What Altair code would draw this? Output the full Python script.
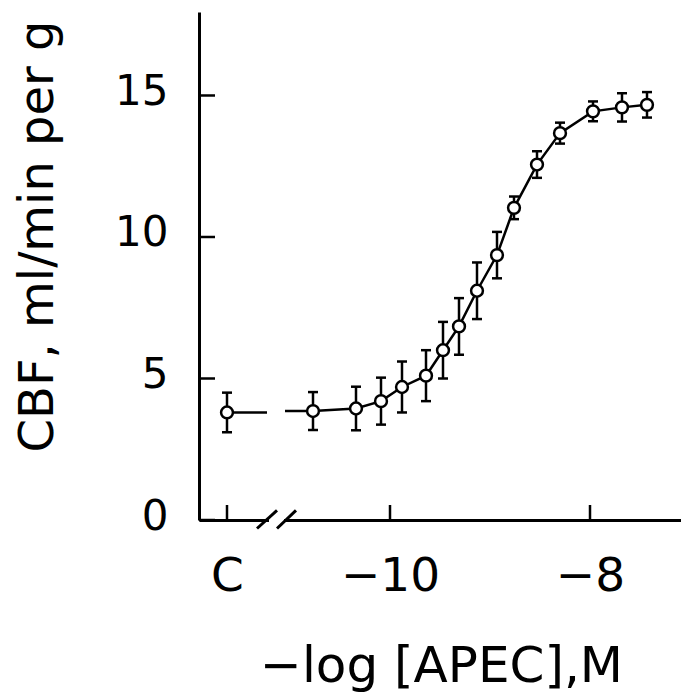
import altair as alt
import pandas as pd

# ---- data ----
x_labels = ["C", "-10", "-8"]
x_pos = [-11.63, -10.77, -10.34, -10.09, -9.88, -9.64, -9.47, -9.31, -9.13,
         -8.93, -8.76, -8.53, -8.30, -7.97, -7.68, -7.43]
cbf_mean = [3.80, 3.85, 3.94, 4.20, 4.70, 5.10, 6.00, 6.84, 8.10,
            9.36, 11.03, 12.56, 13.67, 14.44, 14.58, 14.67]
cbf_sem = [0.70, 0.67, 0.77, 0.83, 0.90, 0.90, 1.00, 1.00, 1.00,
           0.82, 0.40, 0.47, 0.37, 0.35, 0.50, 0.45]
x_tick_values = [-11.63, -10, -8]
y_tick_values = [0, 5, 10, 15]
# axis-break decoration (in data units)
line_gap = [-11.23, -11.05]
slash_x = [[-11.33, -11.13], [-11.13, -10.94]]
slash_y = [-0.30, 0.34]
axis_gap = [-11.21, -11.06]

X_DOMAIN = [-11.91, -7.09]
Y_DOMAIN = [0, 17.95]
W, H = 482, 508
FONT = "DejaVu Sans"

pts = pd.DataFrame({"x": x_pos, "y": cbf_mean,
                    "lo": [m - s for m, s in zip(cbf_mean, cbf_sem)],
                    "hi": [m + s for m, s in zip(cbf_mean, cbf_sem)]})

seg_rows = [
    {"x": x_pos[0], "y": cbf_mean[0], "seg": "a"},
    {"x": line_gap[0], "y": cbf_mean[0], "seg": "a"},
    {"x": line_gap[1], "y": cbf_mean[1], "seg": "b"},
]
for xv, yv in zip(x_pos[1:], cbf_mean[1:]):
    seg_rows.append({"x": xv, "y": yv, "seg": "b"})
segs = pd.DataFrame(seg_rows)

xs = alt.Scale(domain=X_DOMAIN, nice=False, zero=False)
ys = alt.Scale(domain=Y_DOMAIN, nice=False, zero=False)

label_expr = ("datum.value < -11 ? '" + x_labels[0] + "' : "
              "(datum.value < -9 ? '" + x_labels[1].replace('-', '\u2212') + "' : '"
              + x_labels[2].replace('-', '\u2212') + "')")

x_axis = alt.Axis(values=x_tick_values, labelExpr=label_expr, ticks=False, tickSize=0,
                  grid=False, domainColor="black", domainWidth=3,
                  labelFont=FONT, labelFontSize=47, labelColor="black",
                  labelBaseline="alphabetic", labelPadding=70,
                  title="\u2212log [APEC],M", titleFont=FONT, titleFontSize=50,
                  titleFontWeight="normal", titleColor="black",
                  titleX=242, titleY=161, titleAlign="center", titleBaseline="alphabetic")
y_axis = alt.Axis(values=y_tick_values, ticks=False, tickSize=0, grid=False,
                  domainColor="black", domainWidth=3,
                  labelFont=FONT, labelFontSize=42, labelColor="black",
                  labelPadding=31, labelOffset=-4,
                  title="CBF, ml/min per g", titleFont=FONT, titleFontSize=48,
                  titleFontWeight="normal", titleColor="black",
                  titleX=-147, titleY=224, titleAngle=-90, titleAlign="center",
                  titleBaseline="alphabetic")


def X(f):
    return alt.X(f, scale=xs, axis=x_axis)


def Y(f):
    return alt.Y(f, scale=ys, axis=y_axis)


lines = alt.Chart(segs).mark_line(color="black", strokeWidth=2.5).encode(
    x=X("x:Q"), y=Y("y:Q"), detail="seg:N", order="x:Q",
)
ebar = alt.Chart(pts).mark_rule(color="black", strokeWidth=2.5).encode(
    x=X("x:Q"), y=Y("lo:Q"), y2="hi:Q",
)
cap_lo = alt.Chart(pts).mark_tick(orient="horizontal", size=10, thickness=2.5,
                                  color="black", opacity=1).encode(
    x=X("x:Q"), y=Y("lo:Q"),
)
cap_hi = alt.Chart(pts).mark_tick(orient="horizontal", size=10, thickness=2.5,
                                  color="black", opacity=1).encode(
    x=X("x:Q"), y=Y("hi:Q"),
)
points = alt.Chart(pts).mark_point(shape="circle", size=140, filled=False,
                                   fill="white", fillOpacity=1, opacity=1,
                                   stroke="black", strokeWidth=2.5).encode(
    x=X("x:Q"), y=Y("y:Q"),
)

yt = pd.DataFrame({"yt": y_tick_values})
y_ticks = alt.Chart(yt).mark_rule(color="black", strokeWidth=2.5).encode(
    y=Y("yt:Q"), x=alt.value(0), x2=alt.value(16),
)
xt = pd.DataFrame({"xt": x_tick_values})
x_ticks = alt.Chart(xt).mark_rule(color="black", strokeWidth=2.5).encode(
    x=X("xt:Q"), y=alt.value(H), y2=alt.value(H - 15),
)

gap_df = pd.DataFrame({"x1": [axis_gap[0]], "x2": [axis_gap[1]], "y": [0]})
axis_gap_mark = alt.Chart(gap_df).mark_rule(color="white", strokeWidth=6).encode(
    x=X("x1:Q"), x2="x2:Q", y=Y("y:Q"),
)
sl = pd.DataFrame({"x1": [s[0] for s in slash_x], "x2": [s[1] for s in slash_x],
                   "y1": [slash_y[0]] * 2, "y2": [slash_y[1]] * 2})
slashes = alt.Chart(sl).mark_rule(color="black", strokeWidth=3).encode(
    x=X("x1:Q"), x2="x2:Q", y=Y("y1:Q"), y2="y2:Q",
)

chart = alt.layer(
    lines, ebar, cap_lo, cap_hi, points, y_ticks, x_ticks, axis_gap_mark, slashes
).properties(
    width=W, height=H,
    autosize=alt.AutoSizeParams(type="none"),
    padding={"left": 191, "top": 4, "right": 0, "bottom": 176},
    background="white",
).configure_view(stroke=None)

chart.save("out.html", embed_options={"renderer": "svg", "actions": False})
